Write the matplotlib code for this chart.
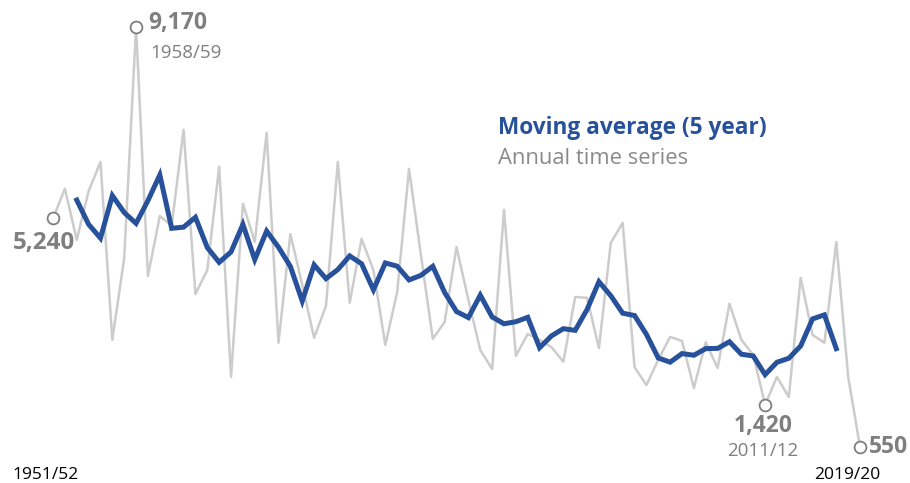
import pandas as pd
import matplotlib.pyplot as plt

plt.rcParams["font.family"] = ["Open Sans", "DejaVu Sans"]

# Annual values, 1951/52 .. 2019/20
first_year = 1951
annual = [
    5240, 5850, 4800, 5800, 6400, 2750, 4430, 9170, 4060, 5290,
    5090, 7060, 3690, 4180, 6300, 1990, 5540, 4760, 7000, 2690,
    4920, 3880, 2790, 3445, 6400, 3510, 4820, 4180, 2645, 3730,
    6260, 4490, 2770, 3115, 4655, 3570, 2540, 2150, 5415, 2420,
    2870, 2750, 2600, 2300, 3630, 3610, 2580, 4740, 5150, 2190,
    1820, 2340, 2810, 2725, 1760, 2700, 2170, 3490, 2750, 2440,
    1420, 1990, 1575, 4020, 2850, 2690, 4760, 1990, 550,
]
seasons = [f"{y}/{str(y + 1)[-2:]}" for y in range(first_year, first_year + len(annual))]

df = pd.DataFrame({"season": seasons, "value": annual})
df["ma5"] = df["value"].rolling(5, center=True).mean()

# points that get a label: first, max, min before the last, last
highlights = [0, 7, 60, len(annual) - 1]

GREY_LINE = "#cccccc"
BLUE = "#27519b"
LABEL_GREY = "#7f7f7f"

fig = plt.figure(figsize=(9.10, 4.83), dpi=100)
ax = fig.add_axes([0, 0, 1, 1])

x = df.index.values
ax.plot(x, df["value"], color=GREY_LINE, lw=1.8, zorder=2)
ax.plot(x, df["ma5"], color=BLUE, lw=3.6, zorder=3, solid_joinstyle="miter")

for i in highlights:
    ax.plot(x[i], df["value"][i], "o", ms=8.5, mfc="white", mec=LABEL_GREY, mew=1.3, zorder=4)


def fmt(v):
    return f"{v:,.0f}"


def label(i, dx, dy, ha, small=None, small_dy=None, size=16.5):
    v = df["value"][i]
    ax.annotate(fmt(v), (x[i], v), xytext=(dx, -dy), textcoords="offset pixels",
                ha=ha, va="center", fontsize=size, fontweight="bold", color=LABEL_GREY)
    if small:
        ax.annotate(small, (x[i], v), xytext=(dx + (2 if ha == "left" else 0), -small_dy),
                    textcoords="offset pixels", ha=ha, va="center", fontsize=13.5,
                    color=LABEL_GREY)


label(7, 12, -4, "left", df["season"][7], 26)
label(0, 22, 25, "right", size=17.5)
label(60, -2, 21, "center", df["season"][60], 46)
label(len(annual) - 1, 9, 0, "left")

# end-of-range labels along the bottom
ax.annotate(seasons[0], (x[0], 0), xycoords=("data", "figure fraction"), xytext=(-7, 0),
            textcoords="offset pixels", ha="center", va="bottom", fontsize=12.5, color="black")
ax.annotate(seasons[-1], (x[-1], 0), xycoords=("data", "figure fraction"), xytext=(-13, 0),
            textcoords="offset pixels", ha="center", va="bottom", fontsize=12.5, color="black")

# legend as text
W, H = 910, 483
fig.text(498 / W, 1 - 128 / H, "Moving average (5 year)", ha="left", va="center",
         fontsize=16.3, fontweight="bold", color=BLUE)
fig.text(498 / W, 1 - 158 / H, "Annual time series", ha="left", va="center",
         fontsize=15.8, color="#8a8a8a")

# title sits above the visible area, only the bottom of its brackets shows
fig.text(339 / W, 1 + 4 / H, "(thousands)", ha="left", va="baseline", fontsize=20, color="black")

ax.set_xlim(-4.466, 72.21)
ax.set_ylim(-189, 9724)
ax.axis("off")

fig.savefig("out.png", dpi=100)
